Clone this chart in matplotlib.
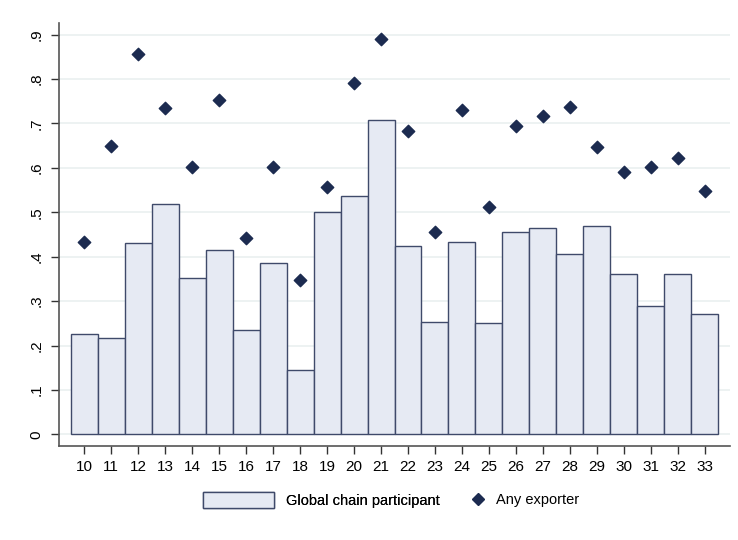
import matplotlib
matplotlib.use("Agg")
import matplotlib.pyplot as plt
from matplotlib.patches import Patch
from matplotlib.lines import Line2D

# sector codes on the x axis
sectors = list(range(10, 34))

# share of firms that are global chain participants (bars)
gvc_share = [0.225, 0.216, 0.430, 0.518, 0.351, 0.416, 0.234, 0.385,
             0.146, 0.500, 0.536, 0.707, 0.425, 0.254, 0.434, 0.250,
             0.455, 0.464, 0.407, 0.470, 0.360, 0.290, 0.362, 0.272]

# share of firms that export at all (diamonds)
exporter_share = [0.434, 0.650, 0.857, 0.734, 0.603, 0.752, 0.441, 0.603,
                  0.347, 0.556, 0.790, 0.891, 0.682, 0.455, 0.731, 0.511,
                  0.695, 0.716, 0.738, 0.648, 0.590, 0.601, 0.623, 0.549]

y_ticks = [0, 0.1, 0.2, 0.3, 0.4, 0.5, 0.6, 0.7, 0.8, 0.9]
y_labels = ["0", ".1", ".2", ".3", ".4", ".5", ".6", ".7", ".8", ".9"]

plt.rcParams['font.family'] = ['Liberation Sans', 'DejaVu Sans']

bar_fill = "#e6eaf3"
bar_edge = "#3f4a6a"
navy = "#1c2b50"
fs = 10.5

fig = plt.figure(figsize=(7.38, 5.40), dpi=100)
ax = fig.add_axes([59 / 738, 1 - 446 / 540, (730 - 59) / 738, (446 - 23) / 540])

ax.bar(sectors, gvc_share, width=1.0, color=bar_fill, edgecolor=bar_edge,
       linewidth=1.0, zorder=2)
ax.scatter(sectors, exporter_share, marker="D", s=40, color=navy, zorder=3)

ax.set_xlim(9.07, 33.93)
ax.set_ylim(-0.026, 0.926)
ax.set_xticks(sectors)
ax.set_yticks(y_ticks)
ax.set_yticklabels(y_labels, rotation=90, va="center")
ax.tick_params(axis="both", labelsize=11, length=6, width=1.0, color="#333333")
ax.tick_params(axis="y", pad=5)
ax.tick_params(axis="x", pad=4)

ax.grid(axis="y", color="#eaf0f0", linewidth=1.2, zorder=0)
ax.set_axisbelow(True)
for side in ("top", "right"):
    ax.spines[side].set_visible(False)
for side in ("left", "bottom"):
    ax.spines[side].set_color("#555555")
    ax.spines[side].set_linewidth(1.2)

# two separate legends so each key can have its own width
bar_key = Patch(facecolor=bar_fill, edgecolor=bar_edge, linewidth=1.0,
                label="Global chain participant")
dot_key = Line2D([], [], marker="D", linestyle="none", color=navy,
                 markersize=6.5, label="Any exporter")

leg1 = fig.legend(handles=[bar_key], loc="center left",
                  bbox_to_anchor=(203 / 738, 1 - 500 / 540), frameon=False,
                  fontsize=fs, borderpad=0, borderaxespad=0, handlelength=4.87,
                  handleheight=1.3, handletextpad=0.8)
fig.add_artist(leg1)
fig.legend(handles=[dot_key], loc="center left",
           bbox_to_anchor=(471 / 738, 1 - 500 / 540), frameon=False,
           fontsize=fs, borderpad=0, borderaxespad=0, handlelength=1.0,
           handletextpad=0.7)

fig.savefig("out.png", dpi=100)
